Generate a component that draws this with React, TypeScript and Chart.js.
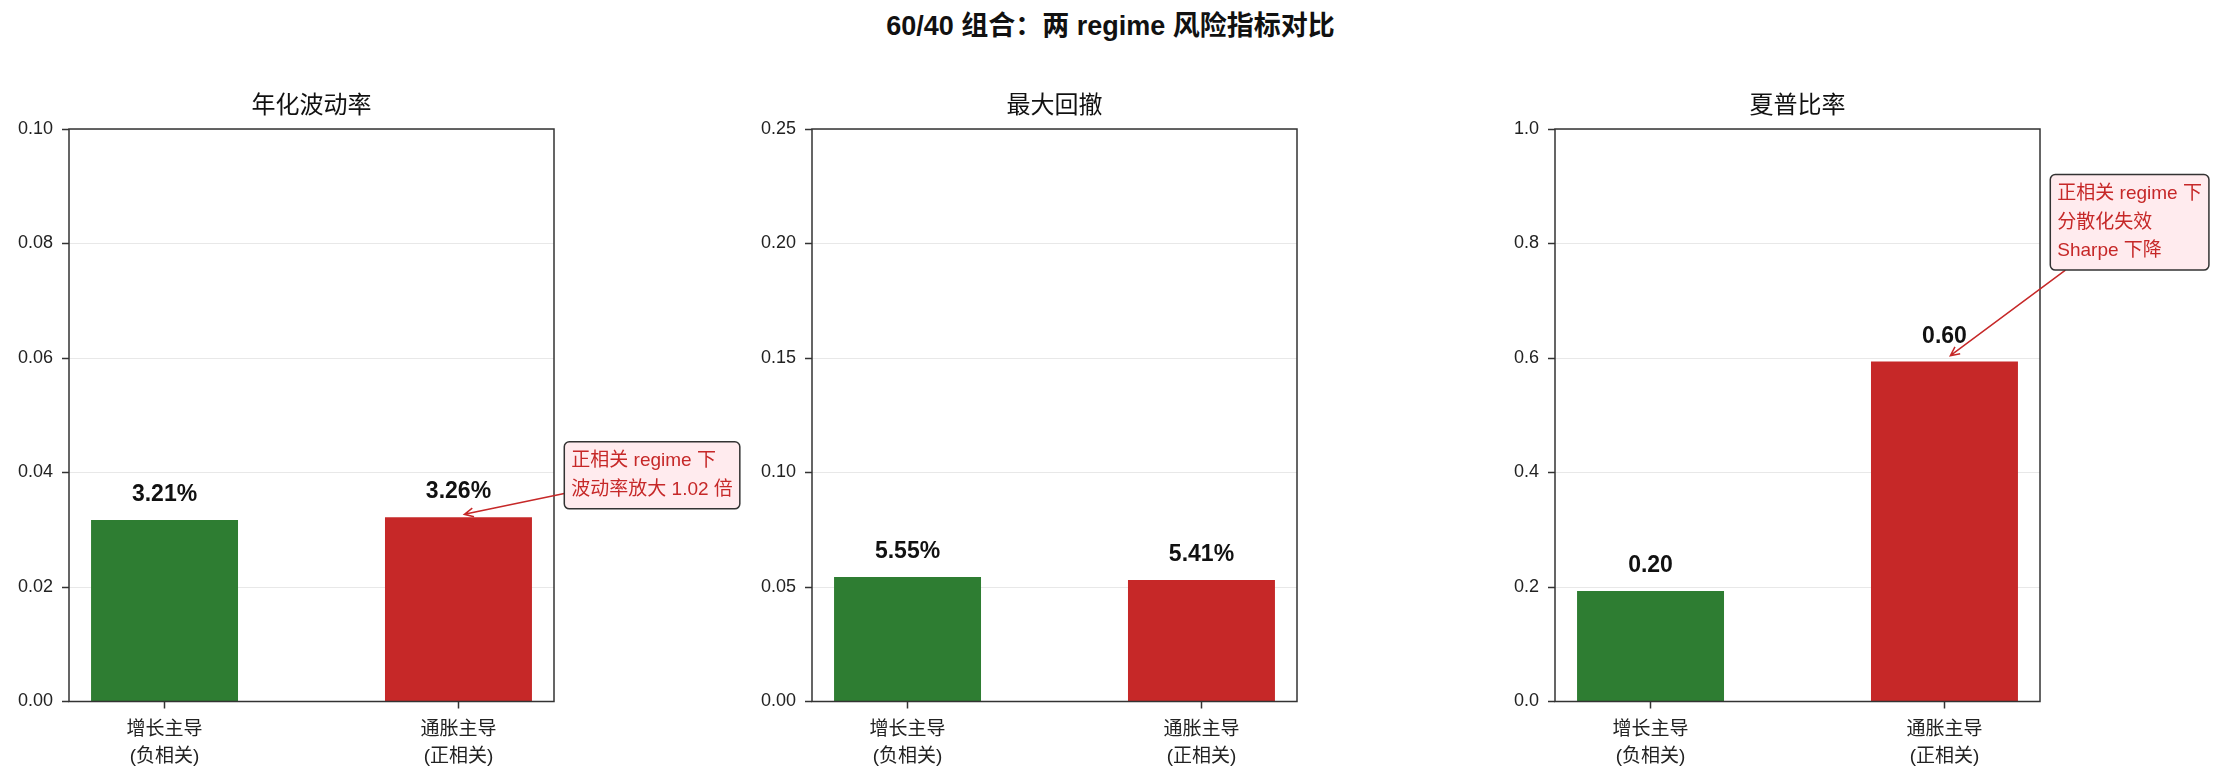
import { useEffect, useRef } from 'react';
import { Chart, registerables } from 'chart.js';

Chart.register(...registerables);

const FONT = '"Liberation Sans", "Noto Sans CJK SC", sans-serif';

// --- data ---
const mainTitle = '60/40 组合：两 regime 风险指标对比';
const categories = [['增长主导', '(负相关)'], ['通胀主导', '(正相关)']];
const barColors = ['#2e7d32', '#c62828'];

const volValues = [0.0317, 0.0322];
const volLabels = ['3.21%', '3.26%'];
const volTicks = [0, 0.02, 0.04, 0.06, 0.08, 0.1];
const volNote = ['正相关 regime 下', '波动率放大 1.02 倍'];

const mddValues = [0.0544, 0.0531];
const mddLabels = ['5.55%', '5.41%'];
const mddTicks = [0, 0.05, 0.1, 0.15, 0.2, 0.25];

const sharpeValues = [0.193, 0.594];
const sharpeLabels = ['0.20', '0.60'];
const sharpeTicks = [0, 0.2, 0.4, 0.6, 0.8, 1.0];
const sharpeNote = ['正相关 regime 下', '分散化失效', 'Sharpe 下降'];

interface Note {
    lines: string[];
    boxX: number; // left edge, data units
    boxY: number; // vertical centre, data units
    tipX: number;
    tipY: number;
}

interface PanelProps {
    title: string;
    values: number[];
    labels: string[];
    yTicks: number[];
    decimals: number;
    note?: Note;
    left: number;
    width: number;
}

const H = 784;
const AREA_LEFT = 69;
const AREA_RIGHT = 554;
const AREA_TOP = 129;
const AREA_BOTTOM = 701.5;

const decorPlugin = (title: string, labels: string[], note?: Note) => ({
    id: 'decor',
    afterDatasetsDraw(chart: any) {
        const { ctx, chartArea, scales } = chart;
        const xs = scales.x;
        const ys = scales.y;
        ctx.save();

        // value labels above bars
        ctx.font = `bold 23px ${FONT}`;
        ctx.fillStyle = '#111';
        ctx.textAlign = 'center';
        ctx.textBaseline = 'middle';
        chart.getDatasetMeta(0).data.forEach((bar: any, i: number) => {
            ctx.fillText(labels[i], bar.x, bar.y - 25);
        });

        // axes frame
        ctx.strokeStyle = '#333';
        ctx.lineWidth = 1.5;
        ctx.strokeRect(chartArea.left, chartArea.top, chartArea.right - chartArea.left, chartArea.bottom - chartArea.top);

        // subplot title
        ctx.font = `24px ${FONT}`;
        ctx.fillStyle = '#111';
        ctx.fillText(title, (chartArea.left + chartArea.right) / 2, chartArea.top - 23);

        if (note) {
            ctx.font = `19px ${FONT}`;
            const lh = 28.5;
            const padX = 7;
            const padY = 5;
            const w = Math.max(...note.lines.map((l) => ctx.measureText(l).width)) + padX * 2;
            const h = note.lines.length * lh + padY * 2;
            const bx = xs.getPixelForValue(note.boxX);
            const by = ys.getPixelForValue(note.boxY) - h / 2;
            const tx = xs.getPixelForValue(note.tipX);
            const ty = ys.getPixelForValue(note.tipY);

            // arrow from box centre, clipped at the box edge
            const cx = bx + w / 2;
            const cy = by + h / 2;
            const dx = tx - cx;
            const dy = ty - cy;
            const t = Math.min(Math.abs(w / 2 / dx), Math.abs(h / 2 / dy));
            const sx = cx + dx * t;
            const sy = cy + dy * t;
            ctx.strokeStyle = '#c62828';
            ctx.lineWidth = 1.5;
            ctx.beginPath();
            ctx.moveTo(sx, sy);
            ctx.lineTo(tx, ty);
            const ang = Math.atan2(ty - sy, tx - sx);
            const hl = 10;
            ctx.moveTo(tx - hl * Math.cos(ang - 0.45), ty - hl * Math.sin(ang - 0.45));
            ctx.lineTo(tx, ty);
            ctx.lineTo(tx - hl * Math.cos(ang + 0.45), ty - hl * Math.sin(ang + 0.45));
            ctx.stroke();

            // box
            ctx.beginPath();
            ctx.roundRect(bx, by, w, h, 5);
            ctx.fillStyle = '#ffebee';
            ctx.fill();
            ctx.strokeStyle = '#333';
            ctx.lineWidth = 1.5;
            ctx.stroke();

            ctx.fillStyle = '#c62828';
            ctx.textAlign = 'left';
            ctx.textBaseline = 'middle';
            note.lines.forEach((l, i) => {
                ctx.fillText(l, bx + padX, by + padY + lh / 2 + i * lh);
            });
        }

        ctx.restore();
    },
});

const Panel: React.FC<PanelProps> = (props) => {
    const canvasRef = useRef<HTMLCanvasElement>(null);

    useEffect(() => {
        const canvas = canvasRef.current;
        if (!canvas) return;
        const ctx = canvas.getContext('2d');
        if (!ctx) return;

        const chart = new Chart(ctx, {
            type: 'bar',
            data: {
                datasets: [
                    {
                        data: props.values.map((v, i) => ({ x: i, y: v })),
                        backgroundColor: barColors,
                        borderWidth: 0,
                        barPercentage: 1,
                        categoryPercentage: 0.5,
                    },
                ],
            },
            options: {
                responsive: false,
                animation: false,
                layout: {
                    padding: { left: 0, right: props.width - AREA_RIGHT, top: AREA_TOP, bottom: 0 },
                },
                plugins: {
                    legend: { display: false },
                    tooltip: { enabled: false },
                    title: { display: false },
                },
                scales: {
                    x: {
                        type: 'linear',
                        min: -0.325,
                        max: 1.325,
                        offset: false,
                        afterBuildTicks: (scale: any) => {
                            scale.ticks = categories.map((_, i) => ({ value: i }));
                        },
                        afterFit: (scale: any) => {
                            scale.height = H - AREA_BOTTOM;
                        },
                        border: { display: false },
                        grid: {
                            offset: false,
                            drawOnChartArea: false,
                            tickLength: 7,
                            tickColor: '#333',
                            tickWidth: 1.5,
                        },
                        ticks: {
                            callback: (v: any) => categories[Math.round(Number(v))],
                            font: { family: FONT, size: 19, lineHeight: 1.42 },
                            color: '#222',
                            padding: 8,
                            maxRotation: 0,
                            autoSkip: false,
                        },
                    },
                    y: {
                        min: 0,
                        max: props.yTicks[props.yTicks.length - 1],
                        afterBuildTicks: (scale: any) => {
                            scale.ticks = props.yTicks.map((v) => ({ value: v }));
                        },
                        afterFit: (scale: any) => {
                            scale.width = AREA_LEFT;
                        },
                        border: { display: false },
                        grid: {
                            color: '#e8e8e8',
                            lineWidth: 1,
                            tickLength: 7,
                            tickColor: '#333',
                            tickWidth: 1.5,
                        },
                        ticks: {
                            callback: (v: any) => Number(v).toFixed(props.decimals),
                            font: { family: FONT, size: 18 },
                            color: '#222',
                            padding: 9,
                        },
                    },
                },
            },
            plugins: [decorPlugin(props.title, props.labels, props.note)],
        } as any);

        return () => {
            chart.destroy();
        };
    }, [props]);

    return (
        <canvas
            ref={canvasRef}
            width={props.width}
            height={H}
            style={{ position: 'absolute', left: props.left, top: 0, width: props.width, height: H }}
        ></canvas>
    );
};

const App = () => {
    return (
        <div style={{ position: 'absolute', left: 0, top: 0, width: 2221, height: H, background: '#fff', overflow: 'hidden' }}>
            <div
                style={{
                    position: 'absolute',
                    left: 0,
                    top: 13,
                    width: 2221,
                    textAlign: 'center',
                    font: `bold 27px ${FONT}`,
                    lineHeight: '27px',
                    color: '#111',
                }}
            >
                {mainTitle}
            </div>
            <Panel
                title="年化波动率"
                values={volValues}
                labels={volLabels}
                yTicks={volTicks}
                decimals={2}
                note={{ lines: volNote, boxX: 1.36, boxY: 0.0395, tipX: 1.02, tipY: 0.0327 }}
                left={0}
                width={743}
            />
            <Panel title="最大回撤" values={mddValues} labels={mddLabels} yTicks={mddTicks} decimals={2} left={743} width={743} />
            <Panel
                title="夏普比率"
                values={sharpeValues}
                labels={sharpeLabels}
                yTicks={sharpeTicks}
                decimals={1}
                note={{ lines: sharpeNote, boxX: 1.36, boxY: 0.837, tipX: 1.02, tipY: 0.604 }}
                left={1486}
                width={735}
            />
        </div>
    );
};

export default App;
